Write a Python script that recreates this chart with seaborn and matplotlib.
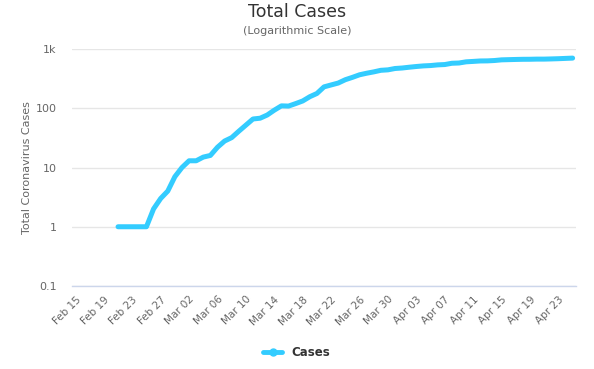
import numpy as np
import pandas as pd
import matplotlib.pyplot as plt
import matplotlib.dates as mdates
import seaborn as sns

# dates shown on the axis and daily totals (starting Feb 21)
axis_start = "2020-02-15"
axis_end = "2020-04-25"
data_start = "2020-02-21"
cases = [1, 1, 1, 1, 1, 2, 3, 4, 7, 10,
         13, 13, 15, 16, 22, 28, 32, 41, 52, 66,
         68, 77, 93, 110, 109, 120, 133, 157, 178, 230,
         248, 267, 304, 333, 368, 391, 412, 438, 446, 470,
         479, 494, 508, 520, 527, 541, 548, 576, 582, 609,
         619, 630, 632, 641, 658, 663, 668, 672, 673, 677,
         677, 682, 688, 696, 704]
ytick_vals = [0.1, 1, 10, 100, 1000]
ytick_labels = ["0.1", "1", "10", "100", "1k"]

dates = pd.date_range(data_start, periods=len(cases), freq="D")
df = pd.DataFrame({"date": dates, "Cases": cases})

sns.set_style("white")
plt.rcParams["font.family"] = ["DejaVu Sans"]

fig = plt.figure(figsize=(5.94, 3.69), dpi=100)
ax = fig.add_axes([0.121, 0.225, 0.849, 0.642])

color = "#33ccff"
sns.lineplot(data=df, x="date", y="Cases", ax=ax, color=color, linewidth=3.6,
             solid_capstyle="round", solid_joinstyle="round", label="Cases",
             legend=False)

ax.set_yscale("log")
ax.set_ylim(0.1, 1000)
ax.set_yticks(ytick_vals)
ax.set_yticklabels(ytick_labels)
ax.minorticks_off()
ax.yaxis.grid(True, color="#e6e6e6", linewidth=1)
ax.set_axisbelow(True)

x0 = pd.Timestamp(axis_start)
x1 = pd.Timestamp(axis_end)
ax.set_xlim(x0 - pd.Timedelta(hours=12), x1 + pd.Timedelta(hours=12))
xt = pd.date_range(axis_start, axis_end, freq="4D")
ax.set_xticks(xt)
ax.xaxis.set_major_formatter(mdates.DateFormatter("%b %d"))
for lbl in ax.get_xticklabels():
    lbl.set_rotation(45)
    lbl.set_ha("right")
    lbl.set_rotation_mode("anchor")

ax.tick_params(axis="both", length=0, labelsize=8, labelcolor="#666666")
ax.tick_params(axis="x", pad=6, labelsize=7.5)
ax.tick_params(axis="y", pad=11)

for s in ["top", "right", "left"]:
    ax.spines[s].set_visible(False)
ax.spines["bottom"].set_color("#ccd6eb")
ax.spines["bottom"].set_linewidth(1)

ax.set_xlabel("")
ax.set_ylabel("Total Coronavirus Cases", fontsize=8, color="#666666")
ax.yaxis.set_label_coords(-0.08, 0.5)

fig.text(0.5, 0.967, "Total Cases", ha="center", va="center", fontsize=12.5, color="#333333")
fig.text(0.5, 0.916, "(Logarithmic Scale)", ha="center", va="center", fontsize=8, color="#666666")

handle = plt.Line2D([], [], color=color, linewidth=3.5, marker="o", markersize=5)
leg = fig.legend([handle], ["Cases"], loc="center", bbox_to_anchor=(0.5, 0.045),
                 frameon=False, handlelength=1.6, fontsize=8.5)
for t in leg.get_texts():
    t.set_fontweight("bold")
    t.set_color("#333333")

fig.savefig("out.png", dpi=100)
